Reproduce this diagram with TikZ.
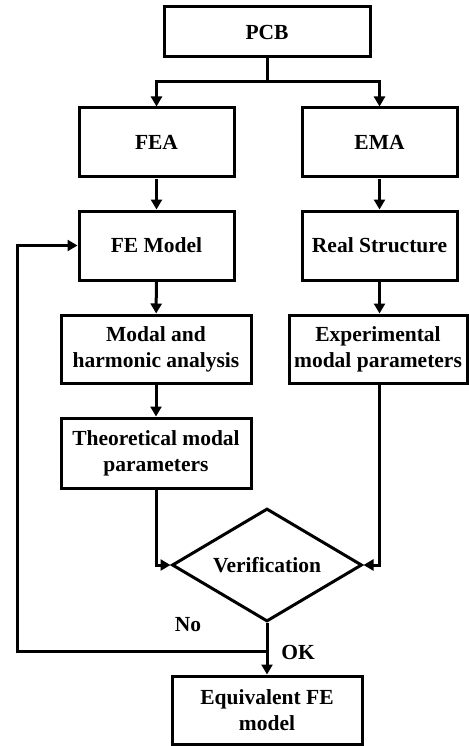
\documentclass[tikz,border=0pt]{standalone}
\usepackage{fontspec}
\setmainfont{Liberation Serif}
\usetikzlibrary{arrows.meta,shapes.geometric}
\begin{document}
\begin{tikzpicture}[x=1pt,y=-1pt,
  every node/.style={font=\fontsize{21.5}{26}\selectfont\bfseries, align=center, inner sep=0pt},
  box/.style={draw, line width=3pt, rectangle},
  line/.style={line width=3pt},
  arr/.style={line width=3pt, -{Triangle[length=10pt,width=11pt]}}]
\useasboundingbox (0,0) rectangle (468,746);
\node[box, minimum width=206pt, minimum height=50pt] (pcb) at (267,32) {PCB};
\node[box, minimum width=155pt, minimum height=69pt] (fea) at (156.5,142.5) {FEA};
\node[box, minimum width=155pt, minimum height=69pt] (ema) at (379.5,142.5) {EMA};
\node[box, minimum width=155pt, minimum height=69pt] (fem) at (156.5,245.5) {FE Model};
\node[box, minimum width=155pt, minimum height=69pt] (real) at (379.5,245.5) {Real Structure};
\node[box, minimum width=190pt, minimum height=68pt] (modal) at (156,349) {Modal and\\harmonic analysis};
\node[box, minimum width=178pt, minimum height=68pt] (exp) at (378,349) {Experimental\\modal parameters};
\node[box, minimum width=190pt, minimum height=70pt] (theo) at (156,453) {Theoretical modal\\parameters};
\node[draw, line width=3pt, diamond, aspect=1.7, minimum width=190pt, minimum height=113pt] (ver) at (267,565) {Verification};
\node[box, minimum width=190pt, minimum height=68pt] (eq) at (267,710) {Equivalent FE\\model};
\coordinate (split) at (267,82);
\coordinate (fb) at (267,651);
\coordinate (corner) at (17,651);
\draw[line] (pcb.south) -- (split);
\draw[arr] (split) -| (fea.north);
\draw[arr] (split) -| (ema.north);
\draw[arr] (fea) -- (fem);
\draw[arr] (ema) -- (real);
\draw[arr] (fem) -- (modal);
\draw[arr] (real.south) -- (real.south |- exp.north);
\draw[arr] (modal) -- (theo);
\draw[arr] (theo.south) |- (ver.west);
\draw[arr] (exp.south -| real.south) |- (ver.east);
\draw[arr] (ver.south) -- (eq.north);
\draw[arr] (fb) -- (corner) |- (fem.west);
\node (no) at (188,625) {No};
\node (ok) at (298,652) {OK};
\end{tikzpicture}
\end{document}
